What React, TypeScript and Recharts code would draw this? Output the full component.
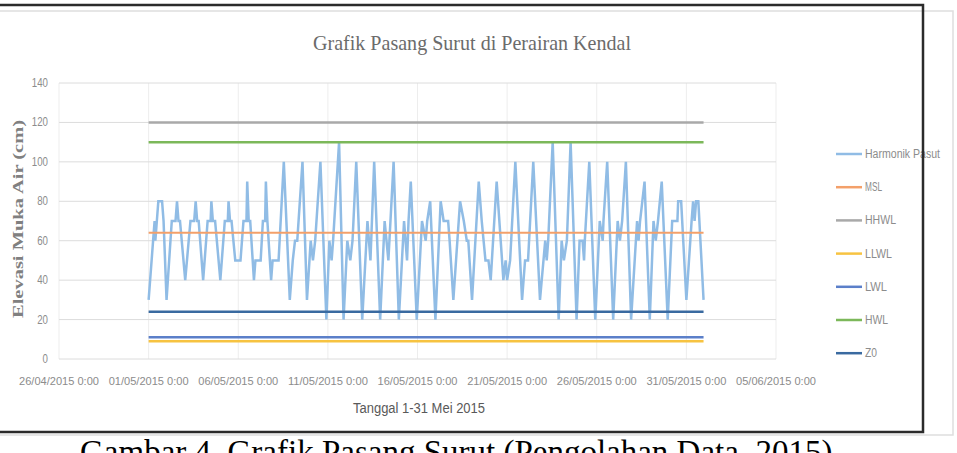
import React from 'react';
import { ComposedChart, Line, XAxis, YAxis, CartesianGrid } from 'recharts';

// Hours since 01/05/2015 0:00 and tide elevation (cm) at turning points
const tideHours = [
  0, 6, 8, 9, 11, 13, 18, 20, 24, 31, 36, 38, 40, 42, 49, 56, 61, 63, 65, 67, 73, 79, 83, 84, 86, 89, 96,
  102, 106, 107, 109, 111, 116, 123, 127, 131, 132, 134, 136, 141, 143, 150, 153, 156, 157, 159, 164, 166,
  174, 181, 189, 193, 196, 199, 206, 212, 217, 220, 223, 230, 238, 242, 245, 247, 255, 261, 266, 270, 273,
  278, 286, 293, 297, 302, 310, 316, 321, 328, 335, 342, 346, 348, 351, 359, 366, 371, 373, 377, 384, 391,
  395, 401, 403, 408, 417, 422, 426, 428, 433, 442, 446, 451, 455, 458, 466, 475, 478, 480, 484, 491, 500,
  504, 508, 515, 524, 531, 533, 535, 541, 549, 553, 556, 560, 565, 573, 577, 581, 583, 584, 590, 598, 604,
  608, 609, 614, 622, 628, 631, 634, 639, 646, 654, 656, 658, 664, 671, 676, 679, 682, 687, 695, 701, 708,
  709, 713, 720, 727, 729, 731, 733, 736, 743,
];
const tideValues = [
  30, 60, 70, 60, 70, 80, 80, 70, 30, 70, 70, 80, 70, 70, 40, 70, 70, 80, 70, 70, 40, 70, 70, 80, 70, 70, 40,
  70, 70, 80, 70, 70, 50, 50, 70, 70, 90, 70, 70, 40, 50, 50, 70, 70, 90, 70, 40, 50,
  50, 100, 30, 50, 60, 60, 100, 30, 60, 50, 60, 100, 20, 60, 50, 60, 110, 20, 60, 50, 60,
  100, 20, 70, 50, 100, 20, 70, 50, 100, 20, 70, 50, 70, 90, 20, 70, 60, 70, 80, 20, 80,
  70, 70, 60, 30, 80, 70, 60, 60, 30, 90, 70, 50, 50, 40, 90, 40, 50, 40, 50, 100, 30,
  50, 50, 100, 30, 60, 50, 60, 110, 20, 60, 50, 60, 110, 20, 60, 60, 50, 60, 100, 20, 70,
  60, 70, 100, 20, 70, 60, 70, 100, 20, 70, 60, 70, 90, 20, 70, 60, 70, 90, 20, 70, 70,
  80, 80, 30, 70, 80, 70, 80, 80, 30,
];

const tideName = 'Harmonik Pasut';
const levelNames = ['MSL', 'HHWL', 'LLWL', 'LWL', 'HWL', 'Z0'];
const levelValues = [64, 120, 9, 11, 110, 24];
const levelStartHour = 0;
const levelEndHour = 743;

const xTickHours = [-120, 0, 120, 240, 360, 480, 600, 720, 840];
const xTickLabels = [
  '26/04/2015 0:00', '01/05/2015 0:00', '06/05/2015 0:00', '11/05/2015 0:00', '16/05/2015 0:00',
  '21/05/2015 0:00', '26/05/2015 0:00', '31/05/2015 0:00', '05/06/2015 0:00',
];
const yTicks = [0, 20, 40, 60, 80, 100, 120, 140];

const titleText = 'Grafik Pasang Surut di Perairan Kendal';
const xTitleText = 'Tanggal 1-31 Mei  2015';
const yTitleText = 'Elevasi Muka Air (cm)';
const captionText = 'Gambar 4. Grafik Pasang Surut (Pengolahan Data, 2015)';

// styles
const tideColor = '#90bce5';
const levelColors = ['#f3a06a', '#a9a9a9', '#f7c341', '#5b7fc9', '#7cb85a', '#3a6aa0'];
const levelWidths = [2, 2.5, 2.5, 2.5, 2.5, 2.5];
const legendTextWidths = [75, 17, 31, 27, 22, 23, 12];

const tideData = tideHours.map((t, i) => ({ t, v: tideValues[i] }));
const levelData = levelValues.map((v) => [
  { t: levelStartHour, v },
  { t: levelEndHour, v },
]);

const XTick = (props: any) => {
  const { x, payload } = props;
  const idx = xTickHours.indexOf(payload.value);
  const label = idx >= 0 ? xTickLabels[idx] : '';
  return (
    <text
      x={x}
      y={385}
      textAnchor="middle"
      fontFamily="'Liberation Sans', Arial, sans-serif"
      fontSize={11}
      fill="#8c8c8c"
      textLength={80}
      lengthAdjust="spacingAndGlyphs"
    >
      {label}
    </text>
  );
};

const YTick = (props: any) => {
  const { y, payload } = props;
  const s = String(payload.value);
  return (
    <text
      x={48}
      y={y + 4}
      textAnchor="end"
      fontFamily="'Liberation Sans', Arial, sans-serif"
      fontSize={12}
      fill="#8c8c8c"
      textLength={s.length * 5.4}
      lengthAdjust="spacingAndGlyphs"
    >
      {s}
    </text>
  );
};

const LegendBox = () => {
  const names = [tideName, ...levelNames];
  const colors = [tideColor, ...levelColors];
  return (
    <g transform="translate(830,143)">
      {names.map((n, i) => {
        const y = 11 + i * 33.2;
        return (
          <g key={n}>
            <line x1={6} x2={32} y1={y} y2={y} stroke={colors[i]} strokeWidth={2.5} />
            <text
              x={35}
              y={y + 4}
              fontFamily="'Liberation Sans', Arial, sans-serif"
              fontSize={12}
              fill="#8c8c8c"
              textLength={legendTextWidths[i]}
              lengthAdjust="spacingAndGlyphs"
            >
              {n}
            </text>
          </g>
        );
      })}
    </g>
  );
};

export default function App() {
  return (
    <div style={{ position: 'absolute', left: 0, top: 0, width: 957, height: 453, background: '#fff', overflow: 'hidden' }}>
      <ComposedChart
        width={957}
        height={453}
        margin={{ top: 83, right: 181, bottom: 64, left: 0 }}
      >
        <CartesianGrid horizontal={false} vertical={true} stroke="#ededed" strokeWidth={1} />
        <CartesianGrid horizontal={true} vertical={false} stroke="#dcdcdc" strokeWidth={1} />
        <XAxis
          type="number"
          dataKey="t"
          domain={[-120, 840]}
          ticks={xTickHours}
          interval={0}
          tick={<XTick />}
          tickLine={false}
          axisLine={false}
          tickSize={0}
          tickMargin={0}
          height={30}
          allowDataOverflow
        />
        <YAxis
          type="number"
          domain={[0, 140]}
          ticks={yTicks}
          interval={0}
          tick={<YTick />}
          tickLine={false}
          axisLine={false}
          tickSize={0}
          tickMargin={0}
          width={59}
        />
        <Line
          data={tideData}
          dataKey="v"
          name={tideName}
          type="linear"
          stroke={tideColor}
          strokeWidth={2.5}
          dot={false}
          isAnimationActive={false}
        />
        {levelNames.map((n, i) => (
          <Line
            key={n}
            data={levelData[i]}
            dataKey="v"
            name={n}
            type="linear"
            stroke={levelColors[i]}
            strokeWidth={levelWidths[i]}
            dot={false}
            isAnimationActive={false}
          />
        ))}
      </ComposedChart>
      <svg
        width={957}
        height={453}
        style={{ position: 'absolute', left: 0, top: 0, pointerEvents: 'none' }}
      >
        <LegendBox />
        <rect x={-5} y={11} width={958} height={424} fill="none" stroke="#dedede" strokeWidth={1.5} />
        <rect x={-5} y={5} width={928} height={427} fill="none" stroke="#2b2b2b" strokeWidth={2.5} />
        <text
          x={472}
          y={50}
          textAnchor="middle"
          fontFamily="'Liberation Serif', 'Times New Roman', serif"
          fontSize={21}
          fill="#6b6b6b"
          textLength={318}
          lengthAdjust="spacingAndGlyphs"
        >
          {titleText}
        </text>
        <text
          x={419}
          y={413}
          textAnchor="middle"
          fontFamily="'Liberation Sans', Arial, sans-serif"
          fontSize={14}
          fill="#595959"
          textLength={132}
          lengthAdjust="spacingAndGlyphs"
        >
          {xTitleText}
        </text>
        <text
          transform="translate(23,219) rotate(-90)"
          textAnchor="middle"
          fontFamily="'Liberation Serif', 'Times New Roman', serif"
          fontWeight="bold"
          fontSize={15}
          fill="#808080"
          textLength={198}
          lengthAdjust="spacingAndGlyphs"
        >
          {yTitleText}
        </text>
        <text
          x={80}
          y={463}
          fontFamily="'Liberation Serif', 'Times New Roman', serif"
          fontSize={33}
          fill="#000"
        >
          {captionText}
        </text>
      </svg>
    </div>
  );
}
